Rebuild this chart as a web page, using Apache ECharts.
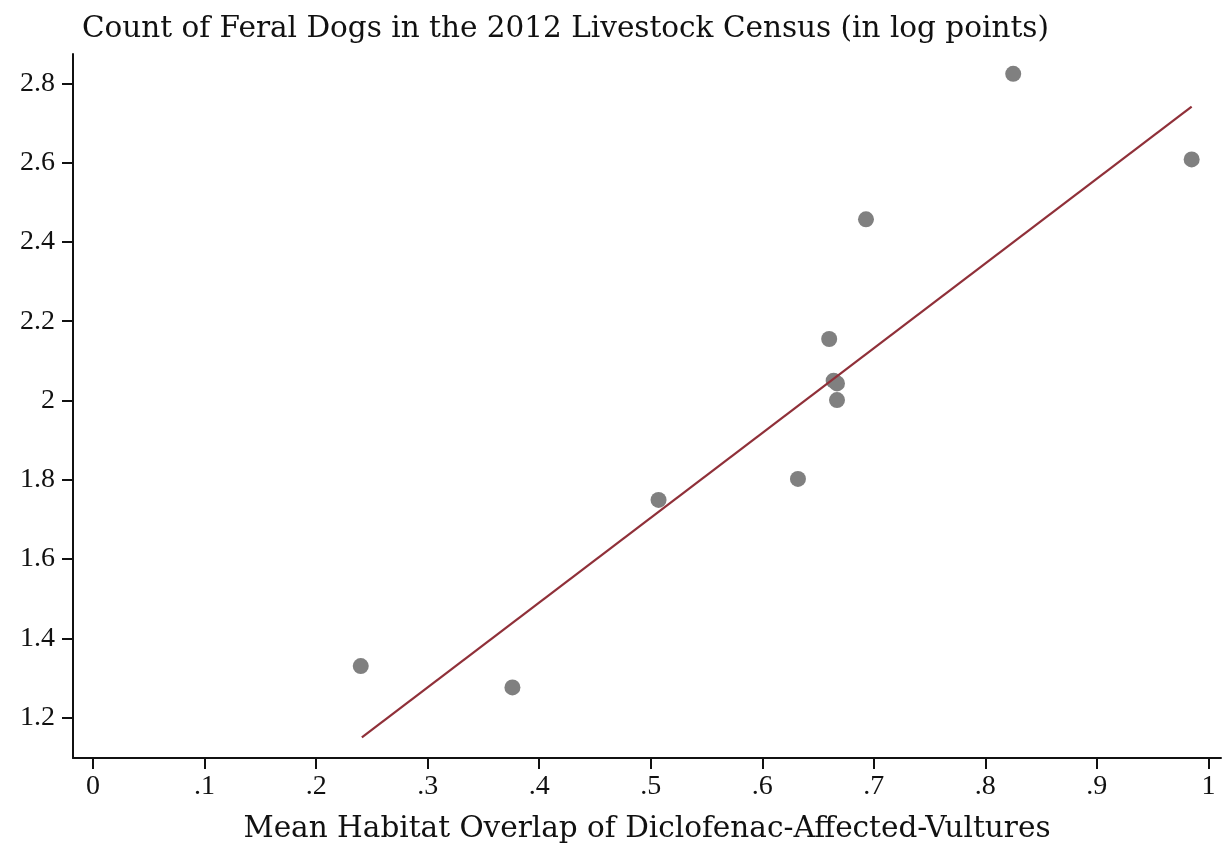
<!DOCTYPE html>
<html>
<head>
<meta charset="utf-8">
<script src="https://cdn.jsdelivr.net/npm/echarts@6/dist/echarts.min.js"></script>
<style>
html,body{margin:0;padding:0;background:#fff;}
#c{width:1222px;height:844px;}
</style>
</head>
<body>
<div id="c"></div>
<script>
const titleText = 'Count of Feral Dogs in the 2012 Livestock Census (in log points)';
const xAxisName = 'Mean Habitat Overlap of Diclofenac-Affected-Vultures';
const overlap = [0.240, 0.376, 0.507, 0.632, 0.660, 0.664, 0.667, 0.667, 0.693, 0.825, 0.985];
const dogsLog = [1.330, 1.276, 1.749, 1.802, 2.155, 2.050, 2.043, 2.001, 2.457, 2.824, 2.608];
const fitX = [0.241, 0.985];
const fitY = [1.150, 2.741];
const xTicks = [0, 0.1, 0.2, 0.3, 0.4, 0.5, 0.6, 0.7, 0.8, 0.9, 1];
const yTicks = [1.2, 1.4, 1.6, 1.8, 2.0, 2.2, 2.4, 2.6, 2.8];

const FONT = 'DejaVu Serif';
const TFONT = 'Liberation Serif';
const chart = echarts.init(document.getElementById('c'), null, {renderer:'canvas'});
chart.setOption({
  backgroundColor:'#fff',
  animation:false,
  title:{
    text:titleText, left:77, top:9,
    textStyle:{fontFamily:FONT, fontSize:29.5, fontWeight:'normal', color:'#111'}
  },
  grid:{left:73, right:1, top:54, bottom:86, containLabel:false, outerBoundsMode:'none'},
  xAxis:{
    type:'value', min:-0.018, max:1.0113,
    name:xAxisName, nameLocation:'middle', nameGap:56,
    nameTextStyle:{fontFamily:FONT, fontSize:29.5, color:'#111'},
    axisLine:{onZero:false, lineStyle:{color:'#111', width:2}},
    axisTick:{customValues:xTicks, length:11, lineStyle:{color:'#111', width:2}},
    axisLabel:{customValues:xTicks, fontFamily:TFONT, fontSize:28, color:'#111', margin:15,
      formatter:v=>{ if(Math.abs(v)<1e-9) return '0'; if(Math.abs(v-1)<1e-9) return '1'; return '.'+Math.round(v*10);} },
    splitLine:{show:false}
  },
  yAxis:{
    type:'value', min:1.098, max:2.874,
    axisLine:{show:true, onZero:false, lineStyle:{color:'#111', width:2}},
    axisTick:{show:true, customValues:yTicks, length:11, lineStyle:{color:'#111', width:2}},
    axisLabel:{customValues:yTicks, fontFamily:TFONT, fontSize:28, color:'#111', margin:18,
      formatter:v=>{ return Math.abs(v-2)<1e-9 ? '2' : v.toFixed(1);} },
    splitLine:{show:false}
  },
  series:[
    {
      type:'scatter', symbol:'circle', symbolSize:16,
      itemStyle:{color:'#808080', opacity:1},
      data: overlap.map((x,i)=>[x, dogsLog[i]]),
      z:2
    },
    {
      type:'line', symbol:'none', silent:true,
      lineStyle:{color:'#903039', width:2.2},
      data: fitX.map((x,i)=>[x, fitY[i]]),
      z:3
    }
  ]
});
</script>
</body>
</html>
